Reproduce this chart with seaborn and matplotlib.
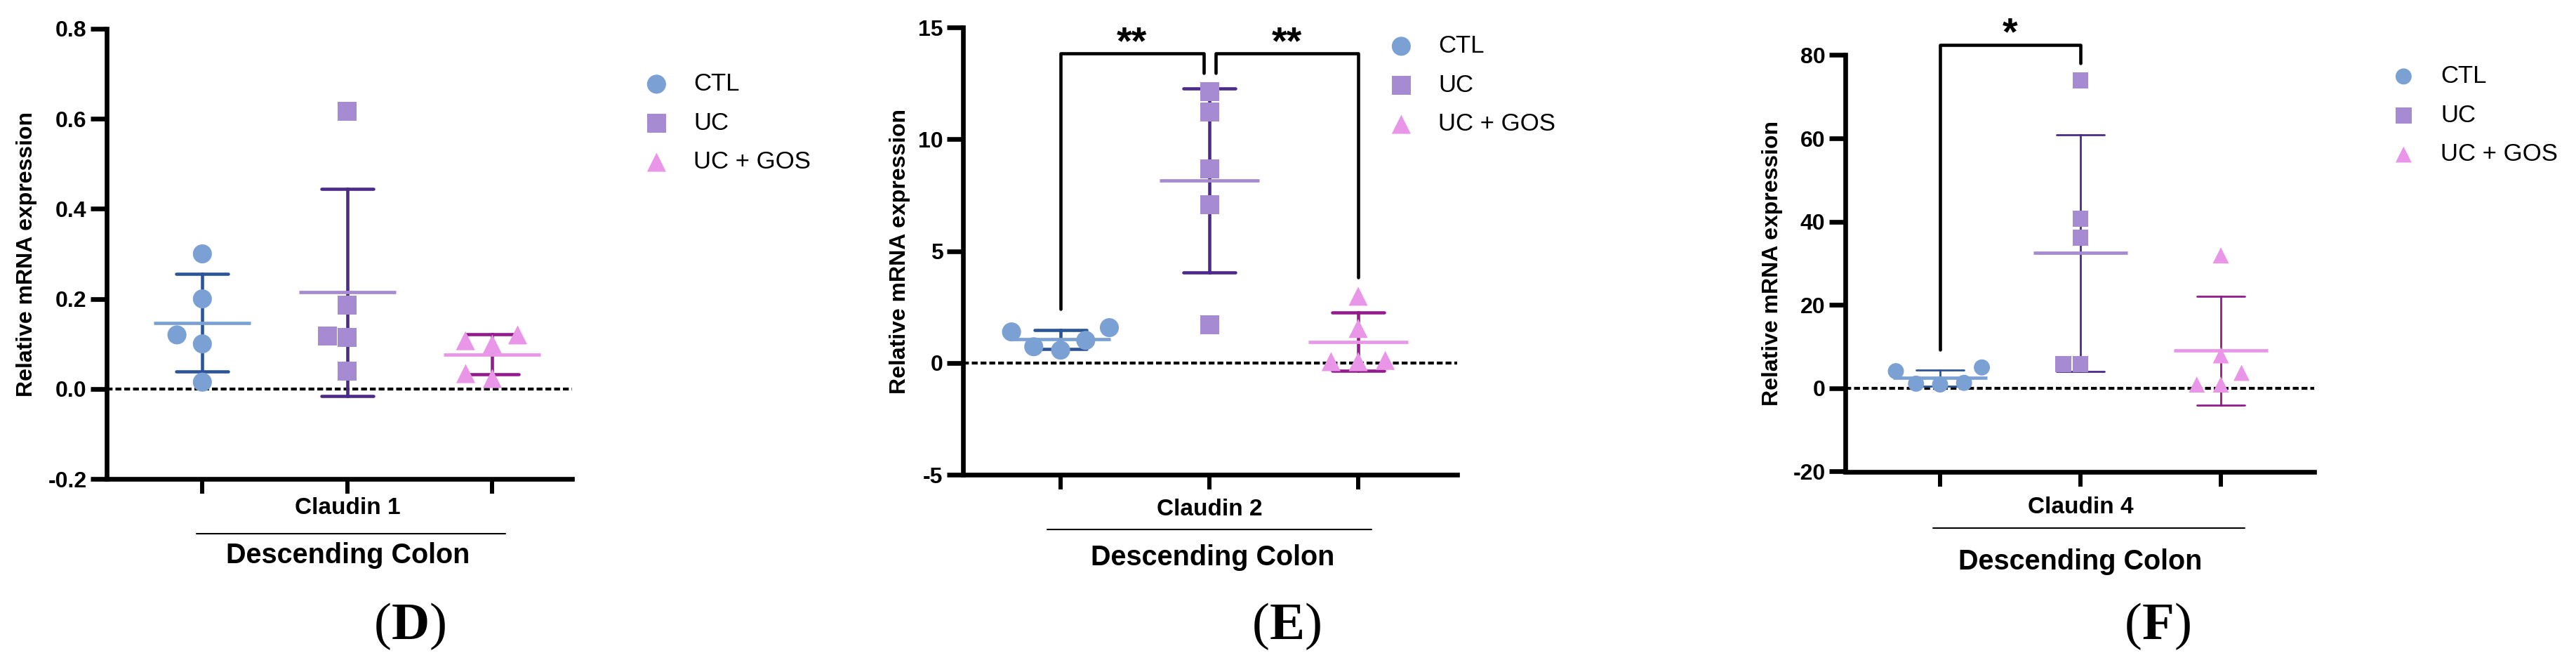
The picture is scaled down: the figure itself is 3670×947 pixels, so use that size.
import numpy as np
import pandas as pd
import seaborn as sns
import matplotlib.pyplot as plt
from matplotlib.lines import Line2D
from matplotlib.offsetbox import TextArea, HPacker, AnnotationBbox

# groups and measured values (relative mRNA expression, descending colon)
groups = ["CTL", "UC", "UC + GOS"]

claudin1_ctl = [0.300, 0.200, 0.120, 0.100, 0.015]
claudin1_uc = [0.616, 0.186, 0.118, 0.115, 0.039]
claudin1_gos = [0.107, 0.120, 0.0995, 0.023, 0.034]

claudin2_ctl = [1.575, 1.385, 0.569, 0.721, 1.006]
claudin2_uc = [12.12, 11.22, 8.67, 7.06, 1.71]
claudin2_gos = [2.98, 1.54, 0.11, 0.056, 0.056]

claudin4_ctl = [5.0, 4.1, 0.9, 1.1, 1.3]
claudin4_uc = [73.9, 40.7, 36.2, 5.8, 5.8]
claudin4_gos = [31.9, 7.9, 3.7, 0.9, 0.9]

claudin1_yticks = [-0.2, 0.0, 0.2, 0.4, 0.6, 0.8]
claudin1_yticklabels = ["-0.2", "0.0", "0.2", "0.4", "0.6", "0.8"]
claudin2_yticks = [-5, 0, 5, 10, 15]
claudin2_yticklabels = ["-5", "0", "5", "10", "15"]
claudin4_yticks = [-20, 0, 20, 40, 60, 80]
claudin4_yticklabels = ["-20", "0", "20", "40", "60", "80"]

# significance comparisons
claudin1_sig = []
claudin2_sig = [("CTL", "UC", "**"), ("UC", "UC + GOS", "**")]
claudin4_sig = [("CTL", "UC", "*")]

genes = ["Claudin 1", "Claudin 2", "Claudin 4"]
tissue = "Descending Colon"
panel_letters = ["D", "E", "F"]
ylabel = "Relative mRNA expression"

point_colors = {"CTL": "#7ba0d4", "UC": "#a68bd2", "UC + GOS": "#e996e8"}
bar_colors = {"CTL": "#2b5597", "UC": "#4b2a8b", "UC + GOS": "#941b8e"}
markers = {"CTL": "o", "UC": "s", "UC + GOS": "^"}
# invisible marker edge, only used to loosen the swarm spacing
swarm_edge = {"CTL": 7, "UC": 0, "UC + GOS": 7}

W, H = 3670, 947


def fx(px):
    return px / W


def fy(py):
    return 1 - py / H


# layout in pixels of the final image
layout = [
    dict(box=(152, 815, 41, 682), xlim=(-0.66, 2.55), ms=19.5, err_lw=3.3, cap=0.36,
         ylab_x=53, gene_xy=(495, 723), rule=(280, 720, 760), tissue_xy=(496, 791),
         letter_xy=(585, 892), legend_xy=(918, 103)),
    dict(box=(1372, 2076, 39, 676), xlim=(-0.656, 2.665), ms=19.5, err_lw=3.3, cap=0.35,
         ylab_x=1297, gene_xy=(1723, 725), rule=(1492, 1954, 754), tissue_xy=(1728, 794),
         letter_xy=(1834, 892), legend_xy=(1979, 49)),
    dict(box=(2629, 3297, 78.5, 671.5), xlim=(-0.675, 2.665), ms=16.5, err_lw=2.0, cap=0.34,
         ylab_x=2540, gene_xy=(2964, 722), rule=(2754, 3198, 752), tissue_xy=(2964, 800),
         letter_xy=(3075, 892), legend_xy=(3407, 92)),
]

panels = [
    ([claudin1_ctl, claudin1_uc, claudin1_gos], claudin1_yticks, claudin1_yticklabels, claudin1_sig),
    ([claudin2_ctl, claudin2_uc, claudin2_gos], claudin2_yticks, claudin2_yticklabels, claudin2_sig),
    ([claudin4_ctl, claudin4_uc, claudin4_gos], claudin4_yticks, claudin4_yticklabels, claudin4_sig),
]

sns.set_theme(style="ticks", rc={
    "text.color": "black", "axes.labelcolor": "black", "axes.edgecolor": "black",
    "xtick.color": "black", "ytick.color": "black",
})
plt.rcParams["font.family"] = ["Liberation Sans", "DejaVu Sans"]
plt.rcParams["font.weight"] = "bold"
plt.rcParams["axes.labelweight"] = "bold"
serif = ["Liberation Serif", "DejaVu Serif"]


def add_brackets(ax, frame, pairs, ylim):
    span = ylim[1] - ylim[0]
    legs = frame.groupby("group")["value"].max() + 0.042 * span
    top = max(max(legs[a], legs[b]) for a, b, _ in pairs) + 0.044 * span
    lefts = {a for a, b, _ in pairs}
    rights = {b for a, b, _ in pairs}
    for a, b, star in pairs:
        x1 = groups.index(a) + (0.04 if a in rights else 0)
        x2 = groups.index(b) - (0.04 if b in lefts else 0)
        ax.plot([x1, x1, x2, x2], [legs[a], top, top, legs[b]], color="black", lw=3.3,
                solid_joinstyle="round", solid_capstyle="round", clip_on=False, zorder=5)
        ax.text((x1 + x2) / 2, top, star, ha="center", va="baseline", fontsize=40,
                fontweight="bold", clip_on=False)


fig = plt.figure(figsize=(W / 100, H / 100), dpi=100)

for i, (values, yticks, yticklabels, sig) in enumerate(panels):
    lay = layout[i]
    l, r, t, b = lay["box"]
    ax = fig.add_axes([fx(l), fy(b), (r - l) / W, (b - t) / H])

    frame = pd.DataFrame({
        "group": np.repeat(groups, [len(v) for v in values]),
        "value": np.concatenate(values),
    })

    px_per_unit = (r - l) / (lay["xlim"][1] - lay["xlim"][0])
    mean_ms = 0.67 * px_per_unit * 0.72

    # SD error bars
    sns.pointplot(data=frame, x="group", y="value", hue="group", order=groups,
                  hue_order=groups, palette=bar_colors, errorbar="sd", capsize=lay["cap"],
                  marker="", linestyle="none", legend=False, ax=ax,
                  err_kws={"linewidth": lay["err_lw"], "zorder": 2})
    # mean line
    sns.pointplot(data=frame, x="group", y="value", hue="group", order=groups,
                  hue_order=groups, palette=point_colors, errorbar=None, marker="_",
                  markersize=mean_ms, markeredgewidth=3.4, linestyle="none",
                  legend=False, ax=ax, zorder=3)
    # individual animals
    for g in groups:
        sns.swarmplot(data=frame[frame["group"] == g], x="group", y="value", order=groups,
                      color=point_colors[g], marker=markers[g], size=lay["ms"],
                      linewidth=swarm_edge[g], edgecolor="none", label=g, zorder=4, ax=ax)

    ax.axhline(0, color="black", lw=3, linestyle=(0, (2, 1)), zorder=1.5)

    ax.set_xlim(*lay["xlim"])
    ax.set_ylim(yticks[0], yticks[-1])
    ax.set_xticks(range(len(groups)))
    ax.set_xticklabels([])
    ax.set_yticks(yticks)
    ax.set_yticklabels(yticklabels)
    ax.set_xlabel("")
    ax.set_ylabel(ylabel, fontsize=23, fontweight="bold")
    ax.yaxis.set_label_coords((lay["ylab_x"] - l) / (r - l), 0.5)

    sns.despine(ax=ax)
    for s in ["left", "bottom"]:
        ax.spines[s].set_linewidth(4.8)
        ax.spines[s].set_capstyle("projecting")
    ax.tick_params(axis="y", length=16.5, width=4.8, labelsize=23, pad=4)
    ax.tick_params(axis="x", length=15, width=4.3)

    if sig:
        add_brackets(ax, frame, sig, (yticks[0], yticks[-1]))

    handles, labels = ax.get_legend_handles_labels()
    keep = {}
    for h, lab in zip(handles, labels):
        if lab in groups and lab not in keep:
            keep[lab] = h
    lx, ly = lay["legend_xy"]
    ax.legend([keep[g] for g in groups], groups, loc="upper left",
              bbox_to_anchor=(fx(lx), fy(ly)), bbox_transform=fig.transFigure,
              frameon=False, prop={"size": 25, "weight": "normal"}, handlelength=1.0,
              handletextpad=1.03, labelspacing=0.65, borderpad=0, borderaxespad=0,
              scatterpoints=1)

    gx, gy = lay["gene_xy"]
    fig.text(fx(gx), fy(gy), genes[i], ha="center", va="center", fontsize=24,
             fontweight="bold")
    x0, x1, ry = lay["rule"]
    fig.add_artist(Line2D([fx(x0), fx(x1)], [fy(ry), fy(ry)], transform=fig.transFigure,
                          color="black", lw=1.5))
    tx, ty = lay["tissue_xy"]
    fig.text(fx(tx), fy(ty), tissue, ha="center", va="center", fontsize=28.5,
             fontweight="bold")

    # panel letter: plain parentheses, bold letter
    parts = [
        TextArea("(", textprops=dict(family=serif, size=54, weight="normal")),
        TextArea(panel_letters[i], textprops=dict(family=serif, size=54, weight="bold")),
        TextArea(")", textprops=dict(family=serif, size=54, weight="normal")),
    ]
    cx, cy = lay["letter_xy"]
    fig.add_artist(AnnotationBbox(HPacker(children=parts, align="baseline", pad=0, sep=0),
                                  (fx(cx), fy(cy)), xycoords="figure fraction",
                                  frameon=False, box_alignment=(0.5, 0.5)))

fig.savefig("out.png", dpi=100)
